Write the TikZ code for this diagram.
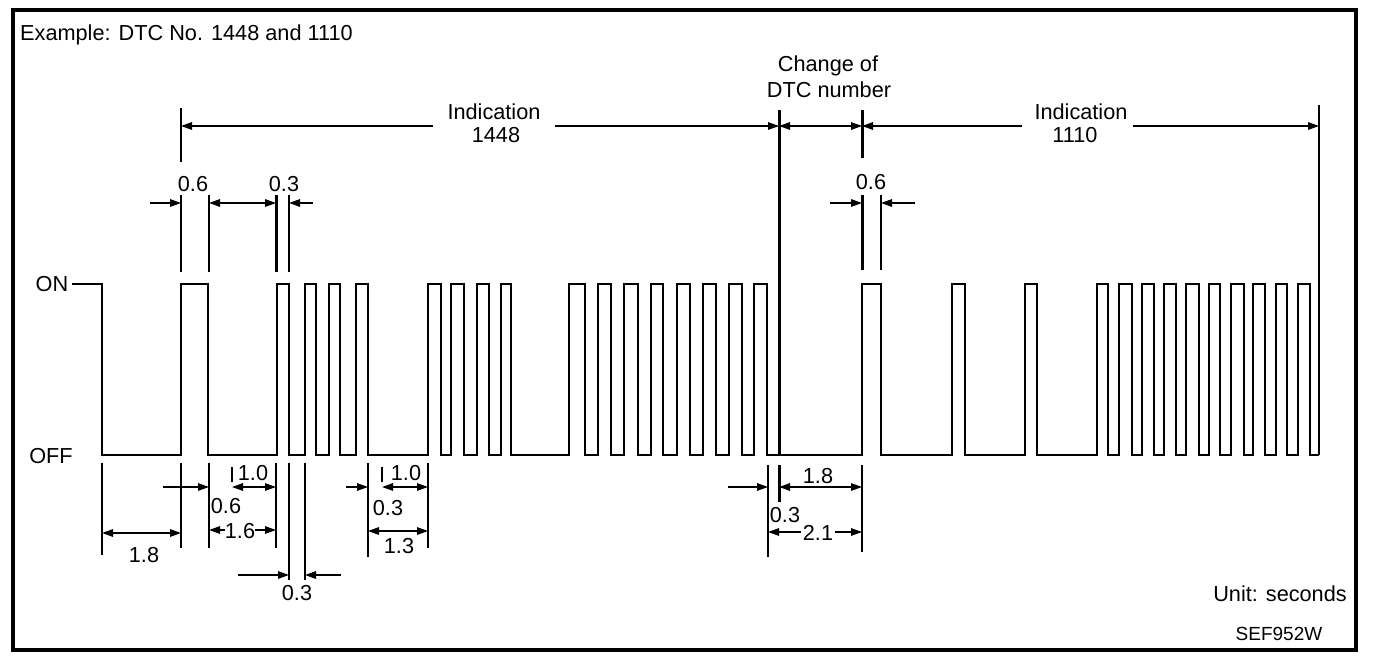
\documentclass[tikz,border=0pt]{standalone}
\usepackage{fontspec}
\setmainfont{Liberation Sans}
\usetikzlibrary{arrows.meta}
\begin{document}
\begin{tikzpicture}[x=1pt,y=-1pt,
  >={Triangle[length=11pt,width=7.5pt]},
  wave/.style={line width=2.2pt,line join=miter},
  dim/.style={line width=1.4pt},
  thickdim/.style={line width=3pt},
  lbl/.style={font=\fontsize{21.7}{24}\selectfont,inner sep=0pt,anchor=base},
  small/.style={font=\fontsize{19}{22}\selectfont,inner sep=0pt,anchor=base}]
\useasboundingbox (0,0) rectangle (1376,660);
% frame
\draw[line width=4pt] (13,10) rectangle (1356,650);
% title
\node[lbl,anchor=base west] (title) at (20,41) {Example: DTC No. 1448 and 1110};
% levels
\node[lbl] (on) at (52,292) {ON};
\node[lbl] (off) at (51,463) {OFF};
% waveform
\draw[wave] (on.east |- 0,284) ++(4,0) -- (102,284) -- (102,455)
  foreach \r/\f in {181/208,277/289,305/316,329/340,356/368,428/441,451/464,477/489,501/511,
                    569/585,598/611,624/638,651/663,677/690,703/716,729/742,754/767,
                    862/881,952/965,1025/1037,
                    1097/1108,1119/1132,1142/1154,1164/1176,1186/1199,1209/1220,1231/1244,1253/1265,1276/1287,1298/1310}
  { -- (\r,455) -- (\r,284) -- (\f,284) -- (\f,455) } -- (1319,455);
% ---------- top annotations ----------
\node[lbl] (ind1) at (494,120) {Indication};
\node[lbl] (n1448) at (496,143) {1448};
\node[lbl] (ind2) at (1081,120) {Indication};
\node[lbl] (n1110) at (1075,143) {1110};
\node[lbl] (chg1) at (828,72) {Change of};
\node[lbl] (chg2) at (829,98) {DTC number};
% extension lines (top)
\draw[dim] (181,108) -- (181,162);
\draw[dim] (181,195) -- (181,272);
\draw[dim] (209,195) -- (209,272);
\draw[thickdim] (276,195) -- (276,272);
\draw[dim] (289,195) -- (289,272);
\draw[thickdim] (779,110) -- (779,455);
\draw[thickdim] (779,465) -- (779,502);
\draw[thickdim] (862,110) -- (862,158);
\draw[thickdim] (862,195) -- (862,270);
\draw[dim] (881,195) -- (881,270);
\draw[dim] (1319,105) -- (1319,455);
% indication arrows
\draw[dim,->] (433,126) -- (181,126);
\draw[dim,->] (555,126) -- (779,126);
\draw[dim,<->] (779,126) -- (862,126);
\draw[dim,->] (1022,126) -- (862,126);
\draw[dim,->] (1133,126) -- (1319,126);
% top small dims
\node[lbl] (t06a) at (193,192) {0.6};
\node[lbl] (t03) at (284,192) {0.3};
\node[lbl] (t06b) at (871,190) {0.6};
\draw[dim,->] (150,203) -- (181,203);
\draw[dim,<->] (209,203) -- (276,203);
\draw[dim,->] (313,203) -- (289,203);
\draw[dim,->] (830,203) -- (862,203);
\draw[dim,->] (915,203) -- (881,203);
% ---------- bottom annotations ----------
\draw[dim] (102,463) -- (102,555);
\draw[dim] (181,463) -- (181,548);
\draw[dim] (209,463) -- (209,548);
\draw[dim] (276,463) -- (276,548);
\draw[dim] (289,463) -- (289,580);
\draw[dim] (305,463) -- (305,580);
\draw[dim] (232,467) -- (232,482);
\draw[dim] (368,463) -- (368,557);
\draw[dim] (382,467) -- (382,482);
\draw[dim] (428,463) -- (428,548);
\draw[dim] (768,465) -- (768,557);
\draw[dim] (862,465) -- (862,552);
% labels
\node[lbl] (b18) at (144,562) {1.8};
\node[lbl] (b06) at (226,513) {0.6};
\node[lbl] (b10a) at (253,480) {1.0};
\node[lbl] (b16) at (240,538) {1.6};
\node[lbl] (b03a) at (297,600) {0.3};
\node[lbl] (b10b) at (406,480) {1.0};
\node[lbl] (b03b) at (388,515) {0.3};
\node[lbl] (b13) at (399,553) {1.3};
\node[lbl] (b18c) at (818,483) {1.8};
\node[lbl] (b03c) at (785,522) {0.3};
\node[lbl] (b21) at (818,540) {2.1};
% arrows
\draw[dim,<->] (102,533) -- (181,533);
\draw[dim,->] (163,487) -- (209,487);
\draw[dim,<->] (232,487) -- (276,487);
\draw[dim,->] (225,530) -- (209,530);
\draw[dim,->] (255,530) -- (276,530);
\draw[dim,->] (238,575) -- (289,575);
\draw[dim,->] (341,575) -- (305,575);
\draw[dim,->] (346,487) -- (368,487);
\draw[dim,<->] (382,487) -- (428,487);
\draw[dim,<->] (368,531) -- (428,531);
\draw[dim,->] (728,487) -- (768,487);
\draw[dim,<->] (779,487) -- (862,487);
\draw[dim,->] (801,532) -- (768,532);
\draw[dim,->] (835,532) -- (862,532);
% footer
\node[lbl] (unit) at (1280,601) {Unit: seconds};
\node[small] (code) at (1279,640) {SEF952W};
\end{tikzpicture}
\end{document}
